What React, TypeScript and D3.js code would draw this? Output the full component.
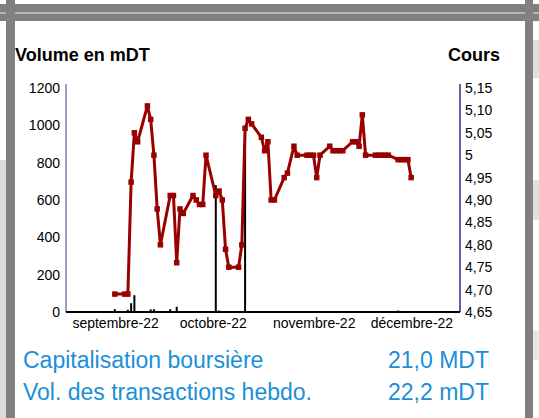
import * as d3 from 'd3'

const W = 539
const H = 418

// cours (price), daily closes
const PRICE_DATES = [
  '2022-09-02', '2022-09-05', '2022-09-06', '2022-09-07', '2022-09-08', '2022-09-09',
  '2022-09-12', '2022-09-13', '2022-09-14', '2022-09-15', '2022-09-16',
  '2022-09-19', '2022-09-20', '2022-09-21', '2022-09-22', '2022-09-23',
  '2022-09-26', '2022-09-27', '2022-09-28', '2022-09-29', '2022-09-30',
  '2022-10-03', '2022-10-04', '2022-10-05', '2022-10-06', '2022-10-07',
  '2022-10-10', '2022-10-11', '2022-10-12', '2022-10-13', '2022-10-14',
  '2022-10-17', '2022-10-18', '2022-10-19', '2022-10-20', '2022-10-21',
  '2022-10-24', '2022-10-25', '2022-10-27', '2022-10-28',
  '2022-10-31', '2022-11-01', '2022-11-02', '2022-11-03', '2022-11-04',
  '2022-11-07', '2022-11-08', '2022-11-09', '2022-11-10', '2022-11-11',
  '2022-11-14', '2022-11-15', '2022-11-16', '2022-11-17', '2022-11-18',
  '2022-11-21', '2022-11-22', '2022-11-23', '2022-11-24', '2022-11-25',
  '2022-11-28', '2022-11-29', '2022-11-30', '2022-12-01', '2022-12-02',
]
const PRICE_VALUES = [
  4.69, 4.69, 4.69, 4.94, 5.05, 5.03,
  5.11, 5.08, 5.0, 4.88, 4.8,
  4.91, 4.91, 4.76, 4.88, 4.87,
  4.91, 4.9, 4.89, 4.89, 5.0,
  4.91, 4.92, 4.9, 4.79, 4.75,
  4.75, 4.8, 5.06, 5.08, 5.07,
  5.04, 5.01, 5.03, 4.9, 4.9,
  4.95, 4.96, 5.02, 5.0,
  5.0, 5.0, 5.0, 4.95, 5.0,
  5.02, 5.01, 5.01, 5.01, 5.01,
  5.03, 5.03, 5.02, 5.09, 5.0,
  5.0, 5.0, 5.0, 5.0, 5.0,
  4.99, 4.99, 4.99, 4.99, 4.95,
]

// volume en mDT
const VOLUME_DATES = [
  '2022-09-02', '2022-09-06', '2022-09-07', '2022-09-08', '2022-09-13', '2022-09-14',
  '2022-09-19', '2022-09-21', '2022-09-26', '2022-09-29', '2022-10-03', '2022-10-04',
  '2022-10-06', '2022-10-12', '2022-10-14', '2022-10-21', '2022-10-28', '2022-11-03',
  '2022-11-08', '2022-11-14', '2022-11-28',
]
const VOLUME_VALUES = [15, 12, 47, 90, 14, 15, 15, 28, 5, 5, 680, 8, 4, 975, 4, 4, 4, 5, 4, 4, 8]

const VOLUME_TICKS = [0, 200, 400, 600, 800, 1000, 1200]
const PRICE_TICKS = [4.65, 4.7, 4.75, 4.8, 4.85, 4.9, 4.95, 5.0, 5.05, 5.1, 5.15]
const PRICE_TICK_LABELS = ['4,65', '4,70', '4,75', '4,80', '4,85', '4,90', '4,95', '5', '5,05', '5,10', '5,15']
const MONTH_DATES = ['2022-09-01', '2022-10-01', '2022-11-01', '2022-12-01']
const MONTH_LABELS = ['septembre-22', 'octobre-22', 'novembre-22', 'décembre-22']

const FONT = '"Liberation Sans", Arial, sans-serif'
const RED = '#990000'
const NAVY = '#353a8c'
const BLUE = '#1b8fd8'

const parse = d3.timeParse('%Y-%m-%d')

export default function App() {
  const left = 66
  const right = 460
  const top = 88
  const bottom = 312

  const x = d3
    .scaleTime()
    .domain([parse('2022-08-18')!, parse('2022-12-17')!])
    .range([left, right])
  const yVol = d3.scaleLinear().domain([0, 1200]).range([bottom, top])
  const yPrice = d3.scaleLinear().domain([4.65, 5.15]).range([bottom, top])

  const prices = PRICE_DATES.map((d, i) => ({ date: parse(d)!, value: PRICE_VALUES[i] }))
  const volumes = VOLUME_DATES.map((d, i) => ({ date: parse(d)!, value: VOLUME_VALUES[i] }))

  const line = d3
    .line<{ date: Date; value: number }>()
    .x((d) => x(d.date))
    .y((d) => yPrice(d.value))

  return (
    <svg width={W} height={H} style={{ display: 'block', position: 'absolute', left: 0, top: 0 }} fontFamily={FONT}>
      <rect width={W} height={H} fill="#fff" />
      {/* page frame */}
      <rect x={0} y={160} width={7} height={H - 160} fill="#dcdcdc" />
      <rect x={533} y={40} width={6} height={38} fill="#e0e0e0" />
      <rect x={533} y={180} width={6} height={40} fill="#e0e0e0" />
      <rect x={533} y={330} width={6} height={30} fill="#e8e8e8" />
      <rect x={0} y={4} width={W} height={17} fill="#808080" />
      <rect x={0} y={12} width={W} height={2} fill="#b5b5b5" />
      <rect x={6} y={0} width={9} height={H} fill="#808080" />
      <rect x={525} y={0} width={8} height={H} fill="#808080" />

      {/* titles */}
      <text x={15} y={61} fontSize={18} fontWeight="bold" fill="#000">
        Volume en mDT
      </text>
      <text x={500} y={61} fontSize={18} fontWeight="bold" fill="#000" textAnchor="end">
        Cours
      </text>

      {/* volume bars */}
      {volumes.map((d, i) => (
        <rect
          key={i}
          x={x(d.date) - 1}
          y={yVol(d.value)}
          width={2}
          height={bottom - yVol(d.value)}
          fill="#000"
        />
      ))}

      {/* axes */}
      <line x1={left} x2={left} y1={top - 4} y2={bottom} stroke={NAVY} strokeWidth={1} />
      <line x1={right} x2={right} y1={top - 4} y2={bottom} stroke={NAVY} strokeWidth={1.6} />
      <line x1={left} x2={right} y1={bottom} y2={bottom} stroke="#000" strokeWidth={2} />

      {VOLUME_TICKS.map((t) => (
        <text key={t} x={left - 6} y={yVol(t)} dy="0.35em" fontSize={14} textAnchor="end" fill="#000">
          {t}
        </text>
      ))}
      {PRICE_TICKS.map((t, i) => (
        <text key={t} x={right + 5} y={yPrice(t)} dy="0.35em" fontSize={14} fill="#000">
          {PRICE_TICK_LABELS[i]}
        </text>
      ))}
      {MONTH_DATES.map((m, i) => (
        <text key={m} x={x(parse(m)!) + 4} y={328} fontSize={14} textAnchor="middle" fill="#000">
          {MONTH_LABELS[i]}
        </text>
      ))}

      {/* price line */}
      <path d={line(prices) ?? undefined} fill="none" stroke={RED} strokeWidth={3} strokeLinejoin="round" />
      {prices.map((d, i) => (
        <rect key={i} x={x(d.date) - 2.75} y={yPrice(d.value) - 2.75} width={5.5} height={5.5} fill={RED} />
      ))}

      {/* footer */}
      <text x={23} y={368} fontSize={23} fill={BLUE}>
        Capitalisation boursière
      </text>
      <text x={489} y={368} fontSize={23} fill={BLUE} textAnchor="end">
        21,0 MDT
      </text>
      <text x={23} y={400} fontSize={23} fill={BLUE}>
        Vol. des transactions hebdo.
      </text>
      <text x={489} y={400} fontSize={23} fill={BLUE} textAnchor="end">
        22,2 mDT
      </text>
    </svg>
  )
}
